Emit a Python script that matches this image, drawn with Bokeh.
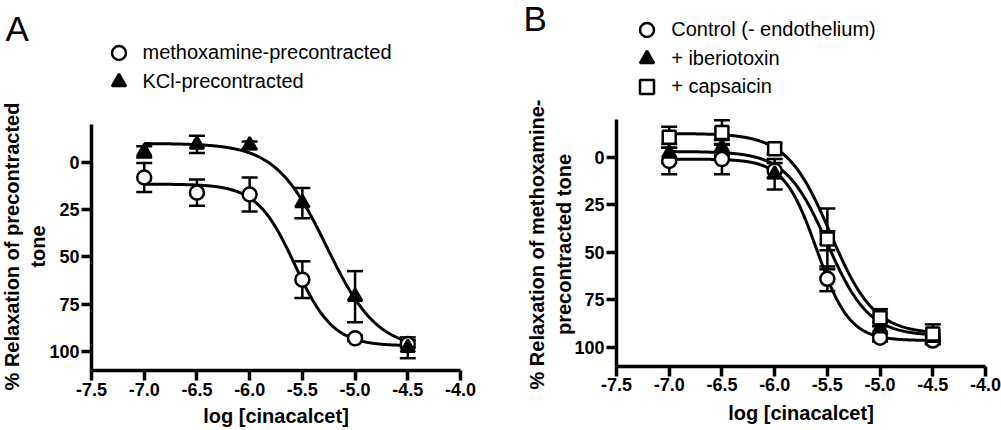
import numpy as np
from bokeh.plotting import figure
from bokeh.layouts import row
from bokeh.models import (ColumnDataSource, Range1d, FixedTicker, PrintfTickFormatter,
                          Whisker, TeeHead, Legend, LegendItem, Label)
from bokeh.embed import file_html
from bokeh.resources import INLINE

FONT = "Liberation Sans"
H = 430

# ---------------- data ----------------
log_conc = [-7.0, -6.5, -6.0, -5.5, -5.0, -4.5]
x_ticks = [-7.5, -7.0, -6.5, -6.0, -5.5, -5.0, -4.5, -4.0]
y_ticks = [0, 25, 50, 75, 100]
x_lim = (-7.5, -4.0)
y_lim = (-20, 110)
x_title = "log [cinacalcet]"

# Panel A
a_methox_mean = [8, 16, 17, 62, 93, 96]
a_methox_err = [7.7, 7, 9, 9.7, 1.5, 2]
a_kcl_mean = [-5.5, -9.5, -9, 21.5, 71, 98]
a_kcl_err = [3, 4.5, 2, 8, 13.5, 5.5]
# sigmoid fit parameters: top, bottom, logEC50, hill slope
a_methox_fit = (11.5, 97, -5.57, 2.4)
a_kcl_fit = (-10, 99, -5.27, 1.8)
a_labels = ["methoxamine-precontracted", "KCl-precontracted"]
a_ytitle = ["% Relaxation of precontracted", "tone"]

# Panel B
b_ctrl_mean = [2, 1, 7, 64, 95, 96.5]
b_ctrl_err = [7, 8, 4, 6.5, 2, 2]
b_ibtx_mean = [-2, -5, 9, 44, 90, 95]
b_ibtx_err = [5, 4, 8, 5, 3, 2]
b_caps_mean = [-10.5, -13, -4.5, 43, 84.5, 93]
b_caps_err = [5.5, 6.5, 3, 16, 4.5, 5]
b_ctrl_fit = (1, 96.5, -5.6, 2.8)
b_ibtx_fit = (-3, 94, -5.5, 2.2)
b_caps_fit = (-12.5, 93, -5.47, 2.1)
b_labels = ["Control (- endothelium)", "+ iberiotoxin", "+ capsaicin"]
b_ytitle = ["% Relaxation of methoxamine-", "precontracted tone"]


def sigmoid(x, fit):
    top, bottom, ec50, h = fit
    return top + (bottom - top) / (1.0 + 10 ** ((ec50 - x) * h))


def make_fig(width, fl, fr, ft, fb):
    # plot area (axes box) placed at pixel box fl..fr, ft..fb of the canvas
    ppx = (fr - fl) / (x_lim[1] - x_lim[0])
    ppy = (fb - ft) / (y_lim[1] - y_lim[0])
    xr = Range1d(x_lim[0] - fl / ppx, x_lim[1] + (width - fr) / ppx)
    yr = Range1d(y_lim[1] + (H - fb) / ppy, y_lim[0] - ft / ppy)
    p = figure(width=width, height=H, x_range=xr, y_range=yr,
               output_backend="svg", toolbar_location=None,
               min_border=0, min_border_left=0, min_border_right=0,
               min_border_top=0, min_border_bottom=0)
    p.grid.visible = False
    p.outline_line_color = None
    p.background_fill_color = "white"
    p.border_fill_color = "white"
    p.xaxis.ticker = FixedTicker(ticks=x_ticks)
    p.xaxis.formatter = PrintfTickFormatter(format="%.1f")
    p.yaxis.ticker = FixedTicker(ticks=y_ticks)
    p.xaxis.fixed_location = y_lim[1]
    p.xaxis.bounds = x_lim
    p.yaxis.fixed_location = x_lim[0]
    p.yaxis.bounds = y_lim
    for ax in (p.xaxis[0], p.yaxis[0]):
        ax.axis_line_width = 3.5
        ax.axis_line_color = "black"
        ax.major_tick_line_width = 3.5
        ax.major_tick_line_color = "black"
        ax.major_tick_in = 0
        ax.major_tick_out = 10
        ax.minor_tick_line_color = None
        ax.major_label_text_font = FONT
        ax.major_label_text_font_style = "bold"
        ax.major_label_text_font_size = "18px"
        ax.major_label_text_color = "black"
    p.xaxis.major_label_standoff = 2
    p.yaxis.major_label_standoff = 2
    return p


def add_series(p, mean, err, fit):
    xs = np.linspace(log_conc[0], log_conc[-1], 300)
    p.line(xs, sigmoid(xs, fit), line_width=3, line_color="black")
    m = np.array(mean, dtype=float)
    e = np.array(err, dtype=float)
    src = ColumnDataSource(dict(x=log_conc, y=m, upper=m + e, lower=m - e))
    w = Whisker(source=src, base="x", upper="upper", lower="lower", dimension="height",
                line_width=2.5, line_color="black",
                upper_head=TeeHead(size=16, line_width=2.5, line_color="black"),
                lower_head=TeeHead(size=16, line_width=2.5, line_color="black"))
    p.add_layout(w)
    return src


def add_marker(p, src, marker, fill, size):
    return p.scatter("x", "y", source=src, marker=marker, size=size, line_width=2.5,
                     line_color="black", fill_color=fill)


def add_legend(p, renderer, label, cx, cy):
    # cx, cy: marker centre in canvas pixels from the top-left
    g = 35
    lg = Legend(items=[LegendItem(label=label, renderers=[renderer])],
                location=(cx - g / 2, H - cy - g / 2),
                orientation="vertical", padding=0, margin=0, spacing=0,
                glyph_width=g, glyph_height=g, label_standoff=7,
                label_text_font=FONT, label_text_font_size="20px", label_text_color="black",
                border_line_color=None, background_fill_alpha=0)
    p.add_layout(lg)


def add_text(p, text, x, y, size, style="normal", rotated=False, align="left"):
    # x, y: wanted baseline position in canvas pixels from the top-left
    shift = 0.34 * size
    if rotated:
        x = x - shift
    else:
        y = y - shift
    p.add_layout(Label(x=x, y=H - y, x_units="screen", y_units="screen", text=text,
                       text_font=FONT, text_font_size=f"{size}px", text_font_style=style,
                       text_color="black", angle=np.pi / 2 if rotated else 0.0,
                       text_align=align, text_baseline="alphabetic"))


# ---------------- panel A ----------------
pa = make_fig(500, 91, 460, 124, 370)
s_m = add_series(pa, a_methox_mean, a_methox_err, a_methox_fit)
s_k = add_series(pa, a_kcl_mean, a_kcl_err, a_kcl_fit)
r_m = add_marker(pa, s_m, "circle", "white", 14)
r_k = add_marker(pa, s_k, "triangle", "black", 14)
add_legend(pa, r_m, a_labels[0], 118, 52.3)
add_legend(pa, r_k, a_labels[1], 118, 81)
add_text(pa, "A", 5, 40, 35)
add_text(pa, a_ytitle[0], 18, 246, 20, "bold", True, "center")
add_text(pa, a_ytitle[1], 44, 246, 20, "bold", True, "center")
add_text(pa, x_title, 275.5, 422, 20, "bold", False, "center")

# ---------------- panel B ----------------
pb = make_fig(501, 116, 485, 118.7, 365.7)
s_c = add_series(pb, b_ctrl_mean, b_ctrl_err, b_ctrl_fit)
s_i = add_series(pb, b_ibtx_mean, b_ibtx_err, b_ibtx_fit)
s_s = add_series(pb, b_caps_mean, b_caps_err, b_caps_fit)
r_c = add_marker(pb, s_c, "circle", "white", 14)
r_i = add_marker(pb, s_i, "triangle", "black", 14)
r_s = add_marker(pb, s_s, "square", "white", 13)
add_legend(pb, r_c, b_labels[0], 146.7, 29.3)
add_legend(pb, r_i, b_labels[1], 146.7, 58.3)
add_legend(pb, r_s, b_labels[2], 146.7, 86)
add_text(pb, "B", 23, 30, 35)
add_text(pb, b_ytitle[0], 43, 244, 20, "bold", True, "center")
add_text(pb, b_ytitle[1], 70.5, 244, 20, "bold", True, "center")
add_text(pb, x_title, 300.5, 419.5, 20, "bold", False, "center")

layout = row(pa, pb)
open("out.html", "w").write(file_html(layout, INLINE))
